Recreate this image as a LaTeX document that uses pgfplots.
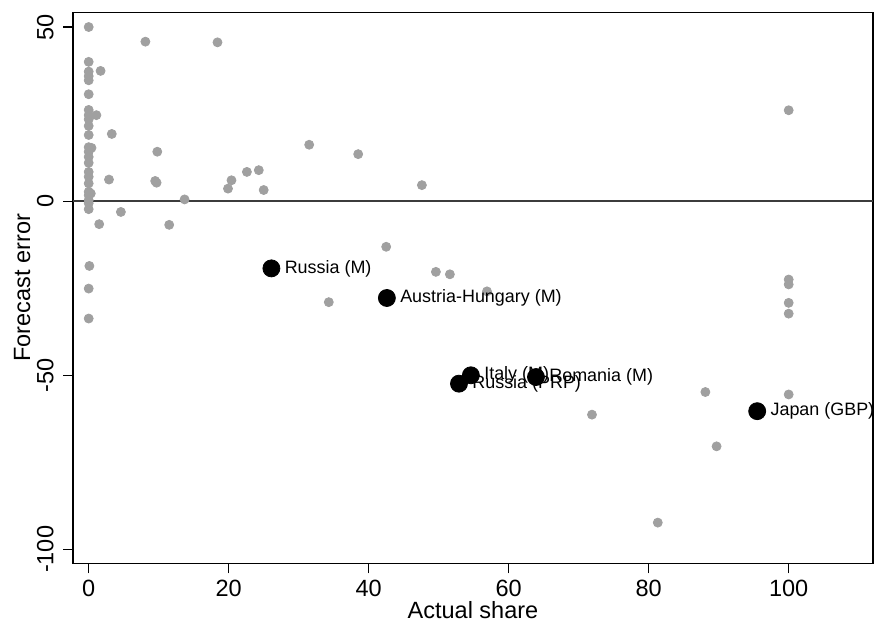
\documentclass[border=0pt]{standalone}
\usepackage{fontspec}
\setmainfont{Liberation Sans}
\usepackage{pgfplots}
\pgfplotsset{compat=1.18}
\definecolor{dotgray}{RGB}{160,160,160}
\definecolor{zerogray}{RGB}{60,60,60}

\pgfplotstableread{
x y
0 50
0 40
0 37.2
0 35.9
0 34.7
0 30.7
0 26.2
0 24.7
0 23.5
0 21.6
0 19.0
0 15.5
0 14.2
0 12.7
0 11.0
0 8.4
0 7.0
0 5.1
0 2.7
0 1.7
0 0.3
0 -0.6
0 -2.3
0.1 -18.6
0 -25.1
0 -33.7
0.4 15.3
0.3 2.2
1.7 37.4
1.1 24.7
3.3 19.3
2.9 6.2
8.1 45.8
18.4 45.6
9.8 14.2
9.5 5.8
9.7 5.3
13.7 0.5
4.6 -3.1
1.5 -6.6
11.5 -6.8
19.9 3.6
20.4 6.0
22.6 8.4
24.3 8.9
25.0 3.2
31.5 16.2
38.5 13.5
47.6 4.6
42.5 -13.1
49.6 -20.3
51.6 -21.0
56.9 -25.9
34.3 -29.0
100 26.1
100 -22.5
100 -23.9
100 -29.2
100 -32.3
88.1 -54.8
100 -55.5
71.9 -61.3
89.7 -70.4
81.3 -92.3
}\graydots

\begin{document}
\begin{tikzpicture}
\begin{axis}[
  scale only axis, width=400bp, height=275.5bp,
  xmin=-2.24, xmax=112.04, ymin=-104.0, ymax=54.2,
  xtick={0,20,...,100}, ytick={-100,-50,0,50},
  xtick pos=bottom, ytick pos=left,
  tick align=outside, major tick length=5bp,
  tick style={black, line width=0.6pt},
  axis line style={black, line width=0.7pt},
  tick label style={font=\fontsize{11.8}{13}\selectfont},
  /pgf/number format/assume math mode=true,
  yticklabel style={rotate=90, anchor=south, inner xsep=0pt, inner ysep=4.5bp},
  xticklabel style={anchor=north, inner xsep=0pt, inner ysep=3.2bp},
  xlabel={Actual share}, ylabel={Forecast error},
  label style={font=\fontsize{11.8}{13}\selectfont},
  xlabel style={at={(axis description cs:0.5,-0.1)}, anchor=base, inner sep=0pt},
  ylabel style={at={(axis description cs:-0.05375,0.5)}, anchor=base, inner sep=0pt},
  clip=true,
  nodes near coords style={anchor=west, xshift=6.5bp, inner sep=0pt, font=\fontsize{9}{10}\selectfont, black},
]
\addplot[zerogray, line width=1bp, forget plot] coordinates {(-2.24,0) (112.04,0)};
\addplot[only marks, mark=*, mark size=2.25bp, dotgray, mark options={draw=dotgray, fill=dotgray}] table {\graydots};
\addplot[only marks, mark=*, mark size=4.25bp, black, nodes near coords, point meta=explicit symbolic] table[meta=label] {
x y label
26.1 -19.3 {Russia (M)}
};
\addplot[only marks, mark=*, mark size=4.25bp, black, nodes near coords, point meta=explicit symbolic] table[meta=label] {
x y label
42.6 -27.8 {Austria-Hungary (M)}
};
\addplot[only marks, mark=*, mark size=4.25bp, black, nodes near coords, point meta=explicit symbolic] table[meta=label] {
x y label
52.9 -52.4 {Russia (PRP)}
};
\addplot[only marks, mark=*, mark size=4.25bp, black, nodes near coords, point meta=explicit symbolic] table[meta=label] {
x y label
54.6 -50.0 {Italy (M)}
};
\addplot[only marks, mark=*, mark size=4.25bp, black, nodes near coords, point meta=explicit symbolic] table[meta=label] {
x y label
63.9 -50.5 {Romania (M)}
};
\addplot[only marks, mark=*, mark size=4.25bp, black, nodes near coords, point meta=explicit symbolic] table[meta=label] {
x y label
95.5 -60.3 {Japan (GBP)}
};
\coordinate (bbsw) at (axis cs:-12.67,-120.98);
\coordinate (bbne) at (axis cs:112.19,57.76);
\end{axis}
\pgfresetboundingbox
\path[use as bounding box] (bbsw) rectangle (bbne);
\end{tikzpicture}
\end{document}
